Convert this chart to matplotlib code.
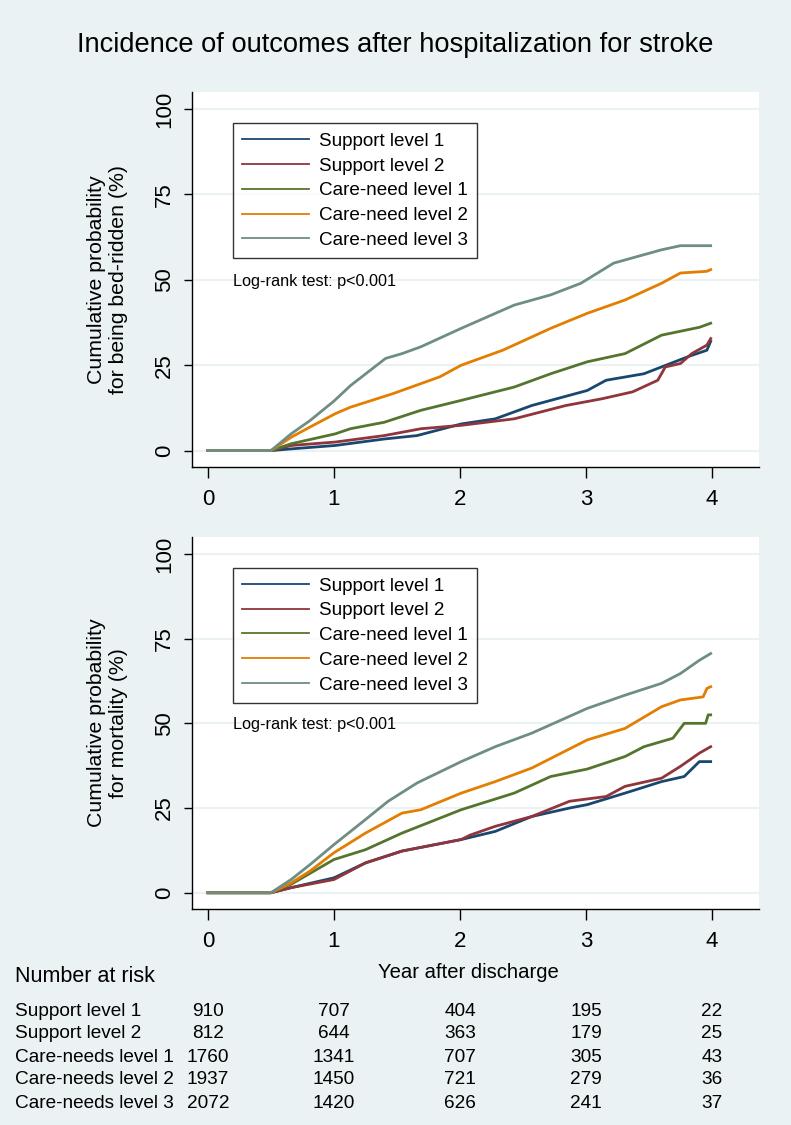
import numpy as np
import matplotlib
matplotlib.use('Agg')
import matplotlib.pyplot as plt
import matplotlib.transforms as mtransforms

plt.rcParams['font.family'] = ['Liberation Sans', 'DejaVu Sans']

# ---- data ----
groups = ['Support level 1', 'Support level 2', 'Care-need level 1',
          'Care-need level 2', 'Care-need level 3']
colors = ['#1A476F', '#90353B', '#55752F', '#E37E00', '#6E8E84']

# bed-ridden (top panel): years, cumulative %
bed_t = [
    [0, 0.5, 0.66, 1.01, 1.4, 1.66, 2.01, 2.28, 2.57, 2.87, 3.01, 3.16, 3.46, 3.6, 3.81, 3.96, 3.99],
    [0, 0.5, 0.66, 1.01, 1.4, 1.69, 2.01, 2.43, 2.84, 3.13, 3.37, 3.57, 3.63, 3.75, 3.84, 3.96, 3.99],
    [0, 0.5, 0.66, 1.01, 1.13, 1.4, 1.69, 2.01, 2.43, 2.72, 3.01, 3.31, 3.6, 3.9, 3.99],
    [0, 0.5, 0.66, 0.81, 1.01, 1.13, 1.47, 1.84, 2.01, 2.34, 2.72, 3.01, 3.31, 3.6, 3.75, 3.96, 3.99],
    [0, 0.5, 0.66, 0.81, 1.0, 1.13, 1.41, 1.54, 1.69, 2.01, 2.43, 2.72, 2.96, 3.22, 3.6, 3.75, 3.99],
]
bed_v = [
    [0, 0, 0.5, 1.5, 3.4, 4.4, 7.8, 9.3, 13.2, 16.2, 17.6, 20.6, 22.5, 24.5, 27.5, 29.4, 32.0],
    [0, 0, 1.5, 2.5, 4.4, 6.4, 7.4, 9.3, 13.2, 15.2, 17.2, 20.6, 24.5, 25.5, 28.4, 30.9, 32.8],
    [0, 0, 2.0, 4.9, 6.4, 8.3, 11.8, 14.7, 18.6, 22.5, 26.0, 28.4, 33.8, 36.1, 37.3],
    [0, 0, 3.9, 6.9, 10.8, 12.7, 16.7, 21.6, 25.0, 29.4, 35.8, 40.2, 44.1, 49.0, 52.0, 52.5, 53.0],
    [0, 0, 4.9, 8.8, 14.5, 19.0, 27.0, 28.4, 30.4, 35.8, 42.6, 45.6, 49.0, 54.9, 58.8, 60.0, 60.0],
]

# mortality (bottom panel)
mort_t = [
    [0, 0.5, 0.66, 1.0, 1.25, 1.54, 2.01, 2.28, 2.57, 2.87, 3.01, 3.31, 3.6, 3.78, 3.9, 3.99],
    [0, 0.5, 0.66, 1.0, 1.25, 1.54, 2.01, 2.08, 2.28, 2.57, 2.87, 3.16, 3.31, 3.6, 3.75, 3.9, 3.99],
    [0, 0.5, 0.66, 1.0, 1.25, 1.54, 2.01, 2.43, 2.72, 3.01, 3.31, 3.46, 3.69, 3.78, 3.95, 3.97, 3.99],
    [0, 0.5, 0.66, 0.81, 1.0, 1.25, 1.54, 1.69, 2.01, 2.28, 2.57, 3.01, 3.31, 3.6, 3.75, 3.93, 3.96, 3.99],
    [0, 0.5, 0.66, 0.81, 1.0, 1.25, 1.43, 1.66, 2.01, 2.28, 2.57, 3.01, 3.31, 3.6, 3.75, 3.9, 3.99],
]
mort_v = [
    [0, 0, 1.5, 4.4, 8.8, 12.3, 15.7, 18.1, 22.5, 25.0, 26.0, 29.4, 32.8, 34.3, 38.7, 38.7],
    [0, 0, 1.5, 3.9, 8.8, 12.3, 15.7, 17.0, 19.6, 22.5, 27.0, 28.4, 31.4, 33.8, 37.3, 41.2, 43.1],
    [0, 0, 2.5, 9.8, 12.7, 17.6, 24.5, 29.4, 34.3, 36.5, 40.2, 43.1, 45.6, 50.0, 50.0, 52.5, 52.5],
    [0, 0, 2.9, 6.4, 11.8, 17.6, 23.5, 24.5, 29.4, 32.8, 36.8, 45.1, 48.5, 54.9, 56.9, 57.8, 60.3, 60.8],
    [0, 0, 3.9, 8.3, 14.2, 21.6, 27.0, 32.4, 38.7, 43.1, 47.1, 54.4, 58.3, 61.8, 64.7, 68.6, 70.6],
]

risk_labels = ['Support level 1', 'Support level 2', 'Care-needs level 1',
               'Care-needs level 2', 'Care-needs level 3']
risk_years = [0, 1, 2, 3, 4]
risk_counts = [
    [910, 707, 404, 195, 22],
    [812, 644, 363, 179, 25],
    [1760, 1341, 707, 305, 43],
    [1937, 1450, 721, 279, 36],
    [2072, 1420, 626, 241, 37],
]

bg = '#EAF2F3'

fig = plt.figure(figsize=(7.91, 11.25), dpi=100, facecolor=bg)
ax1 = fig.add_axes([0.2422, 0.5849, 0.7168, 0.3333])
ax2 = fig.add_axes([0.2422, 0.192, 0.7168, 0.3307])

def draw_panel(ax, ts, vs, ylab):
    ax.set_facecolor('white')
    for t, v, c, g in zip(ts, vs, colors, groups):
        ax.plot(t, v, color=c, lw=2, label=g)
    ax.set_xlim(-0.13, 4.37)
    ax.set_ylim(-4.8, 105)
    ax.set_xticks([0, 1, 2, 3, 4])
    ax.set_yticks([0, 25, 50, 75, 100])
    ax.yaxis.grid(True, color=bg, lw=1.5)
    ax.set_axisbelow(True)
    for s in ['top', 'right']:
        ax.spines[s].set_visible(False)
    for s in ['left', 'bottom']:
        ax.spines[s].set_linewidth(1.0)
    ax.tick_params(axis='x', direction='out', length=8, width=1, labelsize=16, pad=8)
    ax.tick_params(axis='y', direction='out', length=6, width=1, labelsize=16, pad=6)
    for lab in ax.get_yticklabels():
        lab.set_rotation(90)
        lab.set_va('center')
    ax.set_ylabel(ylab, fontsize=15.3, labelpad=19, linespacing=1.2)
    leg = ax.legend(loc='upper left', bbox_to_anchor=(0.073, 0.917), borderaxespad=0,
                    fontsize=13.6, frameon=True, fancybox=False, handlelength=3.5,
                    handletextpad=0.55, labelspacing=0.4, borderpad=0.5)
    leg.get_frame().set_edgecolor('black')
    leg.get_frame().set_linewidth(1.0)
    for h in leg.get_lines():
        h.set_linewidth(1.3)
    ax.text(0.073, 0.496, 'Log-rank test: p<0.001', transform=ax.transAxes,
            fontsize=11.7, va='center', ha='left')

draw_panel(ax1, bed_t, bed_v, 'Cumulative probability\nfor being bed-ridden (%)')
draw_panel(ax2, mort_t, mort_v, 'Cumulative probability\nfor mortality (%)')

fig.text(0.5, 1 - 45 / 1125, 'Incidence of outcomes after hospitalization for stroke',
         ha='center', va='center', fontsize=19.6)

# x label of bottom panel and the number-at-risk table share the x data scale
trans = mtransforms.blended_transform_factory(ax2.transData, fig.transFigure)
fig.text(2.07, 1 - 972 / 1125, 'Year after discharge', ha='center', va='center',
         fontsize=14.6, transform=trans)

fig.text(15 / 791, 1 - 977 / 1125, 'Number at risk', ha='left', va='center', fontsize=15.5)
row_y = [1011, 1034, 1057, 1080, 1103]
for lab, counts, y in zip(risk_labels, risk_counts, row_y):
    yf = 1 - y / 1125
    fig.text(15 / 791, yf, lab, ha='left', va='center', fontsize=13.7)
    for yr, n in zip(risk_years, counts):
        fig.text(yr, yf, str(n), ha='center', va='center', fontsize=13.7, transform=trans)

fig.savefig('out.png', dpi=100, facecolor=bg)
